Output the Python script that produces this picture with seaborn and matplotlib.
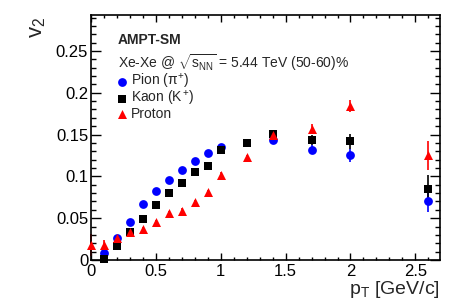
import matplotlib
matplotlib.use("Agg")
import matplotlib.pyplot as plt
from matplotlib.ticker import MultipleLocator
import seaborn as sns
import pandas as pd

# ---- data ----
pion_pt = [0.1, 0.2, 0.3, 0.4, 0.5, 0.6, 0.7, 0.8, 0.9, 1.0, 1.4, 1.7, 2.0, 2.6]
pion_v2 = [0.008, 0.026, 0.046, 0.067, 0.082, 0.096, 0.108, 0.118, 0.128, 0.135, 0.144, 0.132, 0.125, 0.070]
pion_err = [0.001, 0.001, 0.001, 0.001, 0.001, 0.001, 0.001, 0.001, 0.002, 0.002, 0.003, 0.005, 0.008, 0.012]

kaon_pt = [0.1, 0.2, 0.3, 0.4, 0.5, 0.6, 0.7, 0.8, 0.9, 1.0, 1.2, 1.4, 1.7, 2.0, 2.6]
kaon_v2 = [0.001, 0.017, 0.033, 0.049, 0.066, 0.080, 0.092, 0.105, 0.112, 0.132, 0.140, 0.151, 0.144, 0.142, 0.085]
kaon_err = [0.002, 0.002, 0.002, 0.002, 0.002, 0.002, 0.002, 0.002, 0.002, 0.003, 0.003, 0.004, 0.006, 0.009, 0.017]

proton_pt = [0.0, 0.1, 0.2, 0.3, 0.4, 0.5, 0.6, 0.7, 0.8, 0.9, 1.0, 1.2, 1.4, 1.7, 2.0, 2.6]
proton_v2 = [0.018, 0.018, 0.026, 0.033, 0.037, 0.045, 0.056, 0.059, 0.069, 0.081, 0.102, 0.123, 0.150, 0.157, 0.184, 0.125]
proton_err = [0.013, 0.006, 0.004, 0.003, 0.003, 0.003, 0.003, 0.003, 0.003, 0.003, 0.003, 0.003, 0.004, 0.006, 0.007, 0.017]

labels = [r"Pion ($\pi^{+}$)", r"Kaon ($K^{+}$)", "Proton"]

sns.set_style("ticks")
plt.rcParams['font.family'] = ['Liberation Sans', 'DejaVu Sans']
plt.rcParams['mathtext.fontset'] = 'custom'
plt.rcParams['mathtext.rm'] = 'Liberation Sans'
plt.rcParams['mathtext.it'] = 'Liberation Sans'
plt.rcParams['mathtext.bf'] = 'Liberation Sans:bold'

fig = plt.figure(figsize=(4.54, 3.07), dpi=100)
ax = fig.add_axes([91/454, 1-260/307, (440-91)/454, (260-15)/307])

series = [
    (pion_pt, pion_v2, pion_err, "#0000ff", "o", 40, labels[0]),
    (kaon_pt, kaon_v2, kaon_err, "black", "s", 36, labels[1]),
    (proton_pt, proton_v2, proton_err, "#ff0000", "^", 42, labels[2]),
]
for pt, v2, err, col, mk, sz, lab in series:
    df = pd.DataFrame({"pt": pt, "v2": v2})
    ax.errorbar(pt, v2, yerr=err, fmt='none', ecolor=col, elinewidth=1.2, capsize=0, clip_on=False, zorder=2)
    sns.scatterplot(data=df, x="pt", y="v2", ax=ax, color=col, marker=mk, s=sz,
                    linewidth=0, label=lab, clip_on=False, zorder=3, legend=True)

ax.set_xlim(0, 2.69)
ax.set_ylim(0, 0.293)
ax.xaxis.set_minor_locator(MultipleLocator(0.1))
ax.yaxis.set_minor_locator(MultipleLocator(0.01))
ax.set_xticks([0, 0.5, 1, 1.5, 2, 2.5])
ax.set_xticklabels(["0", "0.5", "1", "1.5", "2", "2.5"])
ax.set_yticks([0, 0.05, 0.1, 0.15, 0.2, 0.25])
ax.set_yticklabels(["0", "0.05", "0.1", "0.15", "0.2", "0.25"])
ax.tick_params(axis='both', which='both', direction='in', top=True, right=True,
               labelsize=12, width=1, colors='black')
ax.tick_params(axis='x', which='major', length=5, pad=3)
ax.tick_params(axis='x', which='minor', length=2.5)
ax.tick_params(axis='y', which='major', length=7, pad=2)
ax.tick_params(axis='y', which='minor', length=3.5)
for sp in ax.spines.values():
    sp.set_linewidth(1.2)
    sp.set_color('black')

ax.set_xlabel("")
ax.set_ylabel("")
fig.text(440/454, 1-290/307, r"p$_{\rm T}$ [GeV/c]", ha='right', va='center', fontsize=14)
fig.text(38/454, 1-27/307, r"v$_{2}$", ha='center', va='center', rotation=90, fontsize=16)

ax.text(118/454, 1-40/307, "AMPT-SM", transform=fig.transFigure, fontsize=10, fontweight='bold',
        ha='left', va='center')
ax.text(118/454, 1-63/307, r"Xe-Xe @ $\sqrt{s_{\rm NN}}$ = 5.44 TeV (50-60)%", transform=fig.transFigure,
        fontsize=10, ha='left', va='center')

leg = ax.legend(loc='upper left', bbox_to_anchor=(117/454, 1-72/307), bbox_transform=fig.transFigure,
                frameon=False, fontsize=10, handlelength=0.7, handletextpad=0.3,
                labelspacing=-0.12, borderpad=0, borderaxespad=0)

fig.savefig("out.png", dpi=100)
